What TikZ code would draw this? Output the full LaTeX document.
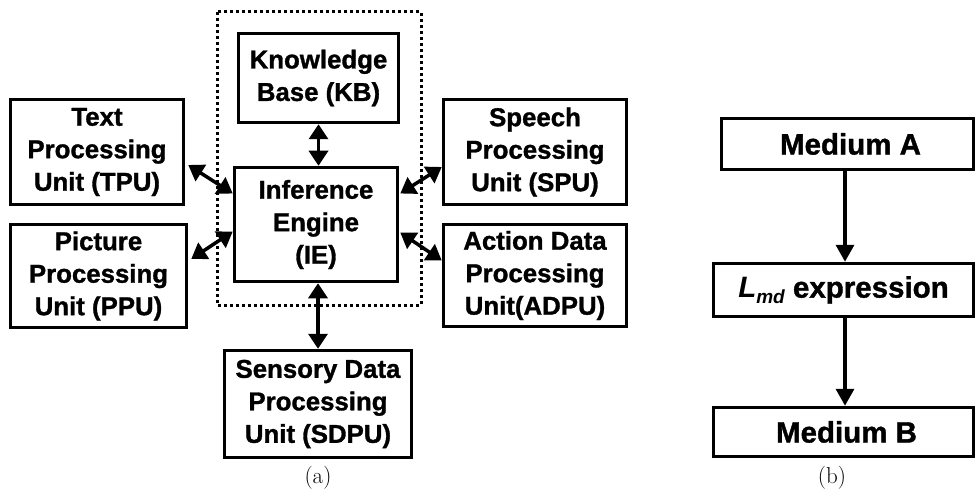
\documentclass[tikz,border=0pt]{standalone}
\usepackage{fontspec}
\newfontfamily\arialb[BoldFeatures={FakeBold=1.2}]{Liberation Sans}
\usetikzlibrary{arrows.meta,calc}
\tikzset{
  box/.style={draw=black, line width=3.5pt, align=center, inner sep=0pt,
    font=\arialb\bfseries\fontsize{25.8}{32.5}\selectfont},
  bigtext/.style={font=\arialb\bfseries\fontsize{29.5}{34}\selectfont},
  dbl/.style={line width=3.5pt, {Triangle[length=15pt,width=19pt]}-{Triangle[length=15pt,width=19pt]}},
  sgl/.style={line width=3.5pt, -{Triangle[length=17pt,width=18pt]}},
  captext/.style={font=\fontsize{23}{26}\selectfont, inner sep=0pt}
}
\begin{document}
\begin{tikzpicture}[x=1pt,y=-1pt]
\useasboundingbox (0,0) rectangle (977,492);
% dotted frame
\draw[line width=3pt, dash pattern=on 3pt off 3pt] (217,12) rectangle (421,305);
% part (a)
\node[box, minimum width=160pt, minimum height=89pt] (kb) at (318.5,78) {Knowledge\\Base (KB)};
\node[box, minimum width=173pt, minimum height=105pt] (tpu) at (97,152) {Text\\Processing\\Unit (TPU)};
\node[box, minimum width=163pt, minimum height=114pt] (ie) at (316,224.5) {Inference\\Engine\\(IE)};
\node[box, minimum width=176pt, minimum height=103pt] (ppu) at (98.5,276) {Picture\\Processing\\Unit (PPU)};
\node[box, minimum width=183pt, minimum height=105pt] (spu) at (535,152) {Speech\\Processing\\Unit (SPU)};
\node[box, minimum width=183pt, minimum height=102pt] (adpu) at (535,275.5) {Action Data\\Processing\\Unit(ADPU)};
\node[box, minimum width=187pt, minimum height=107pt] (sdpu) at (318,404) {Sensory Data\\Processing\\Unit (SDPU)};
\node[captext] (capa) at (318,478) {(a)};
% connectors (a)
\draw[dbl] (kb.south) -- (kb.south |- ie.north);
\draw[dbl] (ie.south -| sdpu.north) -- (sdpu.north);
\draw[dbl] ($(tpu.east)+(3,13)$) -- ($(ie.west)+(0,-31)$);
\draw[dbl] ($(ppu.east)+(3,-17)$) -- ($(ie.west)+(0,7)$);
\draw[dbl] ($(ie.east)+(1,-31)$) -- ($(spu.west)+(0,15)$);
\draw[dbl] ($(ie.east)+(1,8)$) -- ($(adpu.west)+(0,-15)$);
% part (b)
\node[box, bigtext, minimum width=252pt, minimum height=51pt] (ma) at (847.5,144) {\hspace*{6pt}Medium A};
\node[box, bigtext, minimum width=260pt, minimum height=53pt] (lmd) at (843.5,290) {{\itshape L\raisebox{-6pt}{\fontsize{19}{20}\selectfont md}} expression};
\node[box, bigtext, minimum width=260pt, minimum height=49pt] (mb) at (843.5,432) {\hspace*{6pt}Medium B};
\node[captext] (capb) at (832,478) {(b)};
\draw[sgl] (ma.south -| 845,0) -- (lmd.north -| 845,0);
\draw[sgl] (lmd.south -| 845,0) -- (mb.north -| 845,0);
\end{tikzpicture}
\end{document}
